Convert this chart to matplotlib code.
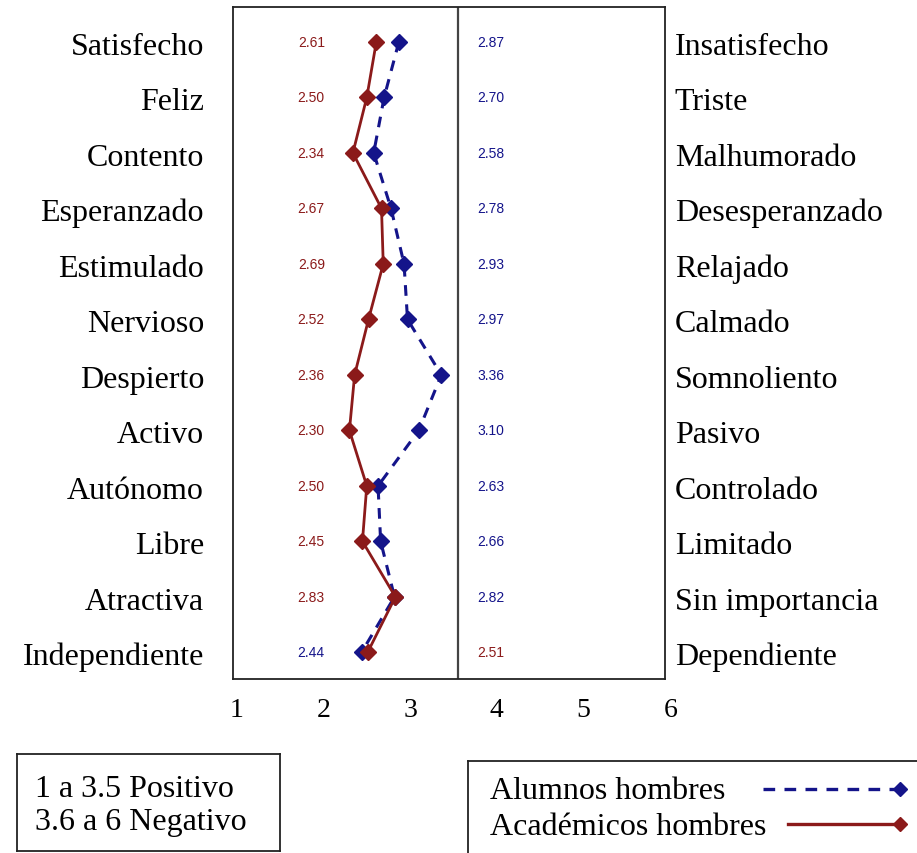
import matplotlib
matplotlib.use("Agg")
import matplotlib.pyplot as plt
import matplotlib.transforms as mtransforms
from matplotlib.lines import Line2D

# rows, top to bottom
positivos = ["Satisfecho", "Feliz", "Contento", "Esperanzado", "Estimulado",
             "Nervioso", "Despierto", "Activo", "Autónomo", "Libre",
             "Atractiva", "Independiente"]
negativos = ["Insatisfecho", "Triste", "Malhumorado", "Desesperanzado",
             "Relajado", "Calmado", "Somnoliento", "Pasivo", "Controlado",
             "Limitado", "Sin importancia", "Dependiente"]

alumnos = [2.87, 2.70, 2.58, 2.78, 2.93, 2.97, 3.36, 3.10, 2.63, 2.66, 2.82, 2.44]
academicos = [2.61, 2.50, 2.34, 2.67, 2.69, 2.52, 2.36, 2.30, 2.50, 2.45, 2.83, 2.51]

xticks = [1, 2, 3, 4, 5, 6]
corte = 3.55  # limite positivo / negativo

AZUL = "#14148a"
ROJO = "#8b1a1a"
SERIF = "Liberation Serif"
SANS = "Liberation Sans"
BIG = 23

W, H = 917, 854
fig = plt.figure(figsize=(W / 100, H / 100), dpi=100)
ax = fig.add_axes([233 / W, (H - 680) / H, 432 / W, 672 / H])

filas = list(range(len(positivos)))

ax.plot(alumnos, filas, color=AZUL, linestyle=(0, (3.5, 2.8)), linewidth=2.2,
        marker="D", markersize=8, zorder=3)
ax.plot(academicos, filas, color=ROJO, linestyle="-", linewidth=2,
        marker="D", markersize=8, zorder=4)
ax.axvline(corte, color="#444444", linewidth=1.6, zorder=2)

ax.set_xlim(0.957, 5.94)
ax.set_ylim(11.48, -0.63)
ax.set_xticks([])
ax.set_yticks([])
for s in ax.spines.values():
    s.set_linewidth(1.3)
    s.set_color("#222222")

# tick labels drawn as text so "6" can sit past the frame
for t in xticks:
    ax.text(t, -0.046, str(t), transform=ax.get_xaxis_transform(),
            ha="center", va="center", fontsize=20, family=SERIF, clip_on=False)

ytr = mtransforms.offset_copy(ax.get_yaxis_transform(), fig=fig, y=-3, units="points")
for i in filas:
    ax.text(-0.067, i, positivos[i], transform=ytr, ha="right", va="center",
            fontsize=BIG, family=SERIF, clip_on=False)
    ax.text(1.023, i, negativos[i], transform=ytr, ha="left", va="center",
            fontsize=BIG, family=SERIF, clip_on=False)

    # academicos on the left column unless alumnos is clearly lower
    a, b = alumnos[i], academicos[i]
    if a < b - 0.05:
        izq, der, ci, cd = a, b, AZUL, ROJO
    else:
        izq, der, ci, cd = b, a, ROJO, AZUL
    ax.text(1.86, i, f"{izq:.2f}", ha="center", va="center", fontsize=10,
            family=SANS, color=ci)
    ax.text(3.93, i, f"{der:.2f}", ha="center", va="center", fontsize=10,
            family=SANS, color=cd)

# box with the scale meaning
caja = fig.add_axes([17 / W, 2 / H, 263 / W, 97 / H])
caja.set_xticks([])
caja.set_yticks([])
for s in caja.spines.values():
    s.set_linewidth(1.3)
    s.set_color("#222222")
caja.text(18 / 263, 0.57, "1 a 3.5 Positivo", transform=caja.transAxes,
          fontsize=BIG, family=SERIF, va="baseline")
caja.text(18 / 263, 0.23, "3.6 a 6 Negativo", transform=caja.transAxes,
          fontsize=BIG, family=SERIF, va="baseline")

# legend, text first and sample line on the right
ley = fig.add_axes([468 / W, -0.02, (W - 468) / W + 0.01, (H - 762) / H + 0.02])
ley.set_xlim(0, 1)
ley.set_ylim(0, 1)
ley.set_xticks([])
ley.set_yticks([])
ley.spines["right"].set_visible(False)
ley.spines["bottom"].set_visible(False)
for s in ("top", "left"):
    ley.spines[s].set_linewidth(1.3)
    ley.spines[s].set_color("#222222")

entradas = [("Alumnos hombres", AZUL, (0, (3.5, 2.8)), 295 / 458, 0.66, 0.74),
            ("Académicos hombres", ROJO, "-", 320 / 458, 0.33, 0.42)]
for texto, color, estilo, x0, yb, yl in entradas:
    ley.text(22 / 458, yb, texto, fontsize=BIG, family=SERIF, va="baseline")
    ley.add_line(Line2D([x0, 432 / 458], [yl, yl], color=color, linestyle=estilo,
                        linewidth=2.4, marker="D", markersize=7, markevery=[1]))

fig.savefig("out.png", dpi=100)
